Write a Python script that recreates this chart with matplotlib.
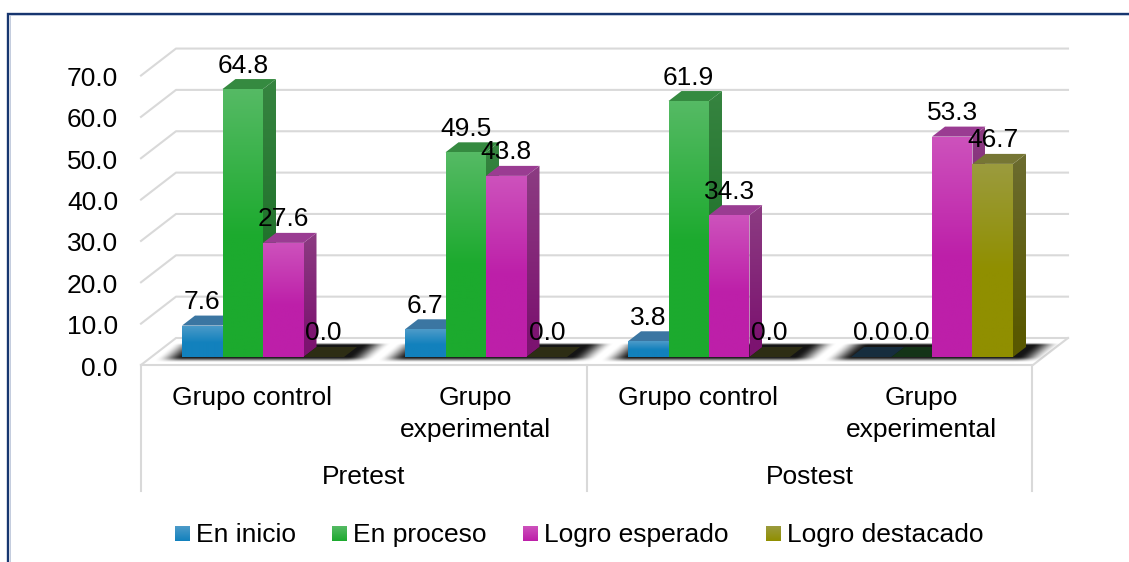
import numpy as np
import matplotlib
matplotlib.use("Agg")
import matplotlib.pyplot as plt
from matplotlib.colors import to_rgb
from matplotlib.patches import Polygon

plt.rcParams["font.family"] = ["Liberation Sans", "DejaVu Sans"]

W, H = 1129, 562
FS = 19

phases = ["Pretest", "Postest"]
groups = ["Grupo control", "Grupo\nexperimental", "Grupo control", "Grupo\nexperimental"]
series = ["En inicio", "En proceso", "Logro esperado", "Logro destacado"]
en_inicio = [7.6, 6.7, 3.8, 0.0]
en_proceso = [64.8, 49.5, 61.9, 0.0]
logro_esperado = [27.6, 43.8, 34.3, 53.3]
logro_destacado = [0.0, 0.0, 0.0, 46.7]
yticks = [0, 10, 20, 30, 40, 50, 60, 70]

# face top, face bottom, side top, side bottom, cap
palette = [
    ("#4d9bc9", "#1281bd", "#2f6f9c", "#12608e", "#3b76a2"),
    ("#55ba64", "#1caa2e", "#368440", "#176a22", "#358a40"),
    ("#cd52bc", "#bd1fa9", "#8c3c82", "#7c1370", "#9a3c92"),
    ("#9b9b3e", "#908f00", "#6c6c30", "#595800", "#767634"),
]

# pixel layout of the pseudo 3D plot
PX_UNIT = 4.135
BASE_Y = 357
WALL_X0, WALL_X1 = 141, 1033
WALL_FRONT_Y = 365
WALL_DX, WALL_DY = 35, 27
SLOT = 223
BAR_W = 40.5
FIRST_BAR = 182
DEPTH_X, DEPTH_Y = 13, 10


def data_x(px):
    return (px - WALL_X0) / SLOT


def data_h(px):
    return px / PX_UNIT


def gradient_poly(ax, verts, c_top, c_bottom, stop=0.55, zorder=3):
    # vertical gradient inside a polygon, solid below the stop fraction
    verts = np.array(verts)
    x0, x1 = verts[:, 0].min(), verts[:, 0].max()
    y0, y1 = verts[:, 1].min(), verts[:, 1].max()
    t = np.clip(np.linspace(0, 1, 64) / stop, 0, 1)[:, None, None]
    img = (1 - t) * np.array(to_rgb(c_top)) + t * np.array(to_rgb(c_bottom))
    im = ax.imshow(img, extent=(x0, x1, y0, y1), origin="upper", aspect="auto",
                   interpolation="bilinear", zorder=zorder)
    clip = Polygon(verts, closed=True, transform=ax.transData)
    im.set_clip_path(clip)


def ramp(t):
    t = np.clip(t, 0, 1)
    return t * t * (3 - 2 * t)


def floor_shadow(ax, x0, x1):
    # soft skewed shadow under one group of bars
    top, bottom = 342.0, 363.0
    left, right = x0 - 32, x1 + 26
    skew = 1.15
    px = np.arange(left - 2, right + 30)
    py = np.arange(top, bottom + 1)
    xx, yy = np.meshgrid(px, py)
    u = xx - skew * (bottom - yy)
    edge = ramp((u - left) / 28) * ramp((right - u) / 28)
    band = ramp((yy - top) / 3) * ramp((bottom - yy) / 6)
    img = np.zeros(xx.shape + (4,))
    img[..., 3] = 0.92 * edge * band
    ax.imshow(img, extent=(data_x(px[0]), data_x(px[-1]), data_h(BASE_Y - bottom), data_h(BASE_Y - top)),
              origin="upper", aspect="auto", interpolation="bilinear", zorder=2)


fig = plt.figure(figsize=(W / 100, H / 100), dpi=100, facecolor="white")

# pixel space layer: frame, walls, axis table, legend
bg = fig.add_axes([0, 0, 1, 1])
bg.set_xlim(0, W)
bg.set_ylim(H, 0)
bg.axis("off")

bg.plot([8, 8, W], [H, 13.5, 13.5], color="#17366f", lw=1.7, solid_joinstyle="miter")
bg.plot([9.5, 9.5], [15, H], color="#b9c4d8", lw=0.6)
bg.plot([9.5, W], [15.3, 15.3], color="#b9c4d8", lw=0.6)

GRID = "#d9d9d9"
for v in yticks:
    fy = WALL_FRONT_Y - v * PX_UNIT
    bg.plot([WALL_X0, WALL_X0 + WALL_DX, WALL_X1 + WALL_DX], [fy, fy - WALL_DY, fy - WALL_DY],
            color=GRID, lw=1.5, zorder=1)
    bg.text(118, fy + 10.5, f"{v:.1f}", ha="right", va="baseline", fontsize=FS, color="black")

bg.plot([WALL_X0, WALL_X1, WALL_X1 + WALL_DX], [WALL_FRONT_Y, WALL_FRONT_Y, WALL_FRONT_Y - WALL_DY],
        color=GRID, lw=1.5, zorder=1)
for x in (WALL_X0, WALL_X0 + 2 * SLOT, WALL_X0 + 4 * SLOT - 1):
    bg.plot([x, x], [WALL_FRONT_Y, 491], color=GRID, lw=1.5, zorder=1)

for i, name in enumerate(groups):
    cx = WALL_X0 + SLOT * (i + 0.5)
    for j, line in enumerate(name.split("\n")):
        bg.text(cx, 405.5 + 31.5 * j, line, ha="center", va="baseline", fontsize=FS)
for i, name in enumerate(phases):
    bg.text(WALL_X0 + SLOT * (2 * i + 1), 484, name, ha="center", va="baseline", fontsize=FS)

legend_x = [175, 332, 523, 766]
for name, x, cols in zip(series, legend_x, palette):
    gradient_poly(bg, [(x, 526), (x + 15, 526), (x + 15, 541), (x, 541)], cols[1], cols[0], stop=1.0)
    bg.text(x + 21, 542, name, ha="left", va="baseline", fontsize=FS)
bg.set_xlim(0, W)
bg.set_ylim(H, 0)

# data layer: x in category slots, y in percent
ax = fig.add_axes([0, 0, 1, 1])
ax.patch.set_alpha(0)
ax.axis("off")

values = [en_inicio, en_proceso, logro_esperado, logro_destacado]
dx = DEPTH_X / SLOT
dy = data_h(DEPTH_Y)
bw = BAR_W / SLOT

for g in range(len(groups)):
    left = data_x(FIRST_BAR) + g
    x_px = FIRST_BAR + g * SLOT
    floor_shadow(ax, x_px, x_px + 4 * BAR_W)
    for s, vals in enumerate(values):
        v = vals[g]
        x0 = left + s * bw
        x1 = x0 + bw
        c_top, c_bot, side_top, side_bot, cap = palette[s]
        z = 3 + s * 0.1
        if v == 0:
            # an empty bar leaves only its darkened cap on the floor
            col = np.array(to_rgb(cap)) * 0.38
            ax.add_patch(Polygon([(x0, 0), (x1, 0), (x1 + dx, dy), (x0 + dx, dy)],
                                 closed=True, fc=col, ec="none", zorder=z))
        else:
            gradient_poly(ax, [(x1, 0), (x1 + dx, dy), (x1 + dx, v + dy), (x1, v)],
                          side_top, side_bot, stop=0.9, zorder=z)
            ax.add_patch(Polygon([(x0, v), (x1, v), (x1 + dx, v + dy), (x0 + dx, v + dy)],
                                 closed=True, fc=cap, ec="none", zorder=z))
            gradient_poly(ax, [(x0, 0), (x1, 0), (x1, v), (x0, v)],
                          c_top, c_bot, stop=0.55, zorder=z + 0.01)
        ax.annotate(f"{v:.1f}", (x0 + bw / 2, v), xytext=(0, 11.9), textcoords="offset points",
                    ha="center", va="baseline", fontsize=FS, color="black", zorder=10)

ax.set_xlim(data_x(0), data_x(W))
ax.set_ylim(data_h(BASE_Y - H), data_h(BASE_Y))

fig.savefig("out.png", dpi=100)
